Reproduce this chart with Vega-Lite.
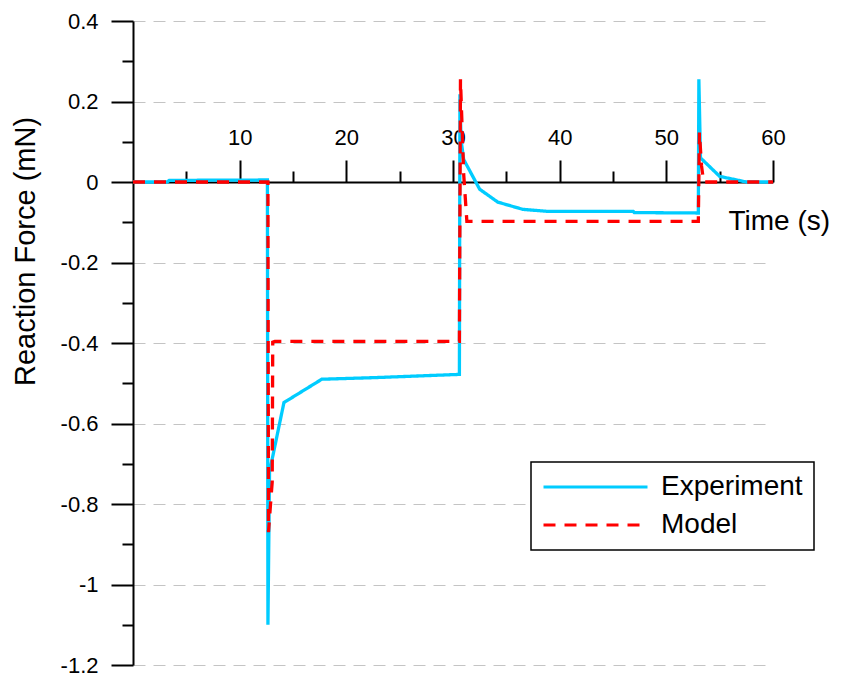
{
  "$schema": "https://vega.github.io/schema/vega-lite/v6.json",
  "width": 640,
  "height": 644,
  "autosize": "none",
  "padding": {"left": 133, "top": 21, "right": 68, "bottom": 15},
  "background": "white",
  "config": {
    "view": {"stroke": null},
    "font": "Liberation Sans",
    "legend": {
      "orient": "none",
      "legendX": 398,
      "legendY": 441,
      "title": null,
      "symbolType": "stroke",
      "symbolSize": 10816,
      "symbolStrokeWidth": 3,
      "labelFontSize": 28,
      "labelFont": "Liberation Sans",
      "labelColor": "black",
      "labelOffset": 12,
      "strokeColor": "black",
      "strokeWidth": 1.5,
      "fillColor": "white",
      "padding": 11,
      "rowPadding": 10,
      "clipHeight": 28
    }
  },
  "data": {
    "values": [
      {"t": 0, "f": 0, "s": "Experiment"},
      {"t": 3.2, "f": 0, "s": "Experiment"},
      {"t": 3.4, "f": 0.004, "s": "Experiment"},
      {"t": 12.6, "f": 0.005, "s": "Experiment"},
      {"t": 12.65, "f": -1.1, "s": "Experiment"},
      {"t": 12.8, "f": -0.72, "s": "Experiment"},
      {"t": 14.15, "f": -0.548, "s": "Experiment"},
      {"t": 17.7, "f": -0.49, "s": "Experiment"},
      {"t": 22.7, "f": -0.486, "s": "Experiment"},
      {"t": 30.6, "f": -0.478, "s": "Experiment"},
      {"t": 30.65, "f": 0.218, "s": "Experiment"},
      {"t": 30.75, "f": 0.105, "s": "Experiment"},
      {"t": 31.0, "f": 0.056, "s": "Experiment"},
      {"t": 32.5, "f": -0.018, "s": "Experiment"},
      {"t": 34.2, "f": -0.05, "s": "Experiment"},
      {"t": 36.55, "f": -0.068, "s": "Experiment"},
      {"t": 38.9, "f": -0.073, "s": "Experiment"},
      {"t": 46.9, "f": -0.073, "s": "Experiment"},
      {"t": 47.0, "f": -0.076, "s": "Experiment"},
      {"t": 53.0, "f": -0.077, "s": "Experiment"},
      {"t": 53.05, "f": 0.255, "s": "Experiment"},
      {"t": 53.2, "f": 0.06, "s": "Experiment"},
      {"t": 55.0, "f": 0.014, "s": "Experiment"},
      {"t": 57.5, "f": 0, "s": "Experiment"},
      {"t": 60, "f": 0, "s": "Experiment"},
      {"t": 0, "f": 0, "s": "Model"},
      {"t": 12.65, "f": 0, "s": "Model"},
      {"t": 12.7, "f": -0.87, "s": "Model"},
      {"t": 13.05, "f": -0.745, "s": "Model"},
      {"t": 13.1, "f": -0.398, "s": "Model"},
      {"t": 13.3, "f": -0.396, "s": "Model"},
      {"t": 30.6, "f": -0.396, "s": "Model"},
      {"t": 30.7, "f": 0.255, "s": "Model"},
      {"t": 31.0, "f": 0.02, "s": "Model"},
      {"t": 31.3, "f": -0.098, "s": "Model"},
      {"t": 53.0, "f": -0.098, "s": "Model"},
      {"t": 53.1, "f": 0.123, "s": "Model"},
      {"t": 53.3, "f": 0.04, "s": "Model"},
      {"t": 53.5, "f": 0, "s": "Model"},
      {"t": 60, "f": 0, "s": "Model"}
    ]
  },
  "mark": {"type": "line", "strokeWidth": 3.3},
  "encoding": {
    "x": {
      "field": "t",
      "type": "quantitative",
      "scale": {"domain": [0, 60], "nice": false, "zero": false},
      "axis": {
        "orient": "top",
        "offset": -161,
        "values": [5, 10, 15, 20, 25, 30, 35, 40, 45, 50, 55, 60],
        "labelExpr": "datum.value % 10 === 0 ? datum.label : ''",
        "tickSize": {"condition": {"test": "datum.value % 10 === 0", "value": 22}, "value": 11},
        "tickWidth": 2,
        "tickColor": "black",
        "domainColor": "black",
        "domainWidth": 2,
        "labelFontSize": 22,
        "labelColor": "black",
        "labelPadding": 11,
        "labelFlush": false,
        "grid": false,
        "title": "Time (s)",
        "titleFontSize": 28,
        "titleFontWeight": "normal",
        "titleColor": "black",
        "titleX": 595,
        "titleY": 39,
        "titleAlign": "left",
        "titleBaseline": "middle",
        "titleAngle": 0
      }
    },
    "y": {
      "field": "f",
      "type": "quantitative",
      "scale": {"domain": [-1.2, 0.4], "nice": false, "zero": false},
      "axis": {
        "orient": "left",
        "values": [-1.2, -1.1, -1.0, -0.9, -0.8, -0.7, -0.6, -0.5, -0.4, -0.3, -0.2, -0.1, 0, 0.1, 0.2, 0.3, 0.4],
        "labelExpr": "abs(round(datum.value * 10)) % 2 === 0 ? replace(format(datum.value, '.1~f'), '\u2212', '-') : ''",
        "tickSize": {"condition": {"test": "abs(round(datum.value * 10)) % 2 === 0", "value": 22}, "value": 11},
        "tickWidth": 2,
        "tickColor": "black",
        "domainColor": "black",
        "domainWidth": 2,
        "labelFontSize": 22,
        "labelColor": "black",
        "labelPadding": 13,
        "labelFlush": false,
        "grid": true,
        "gridDash": [12, 8],
        "gridColor": "#c4c4c4",
        "gridWidth": 1,
        "gridOpacity": {"condition": {"test": "abs(round(datum.value * 10)) % 2 === 0 && datum.value !== 0", "value": 1}, "value": 0},
        "title": "Reaction Force (mN)",
        "titleFontSize": 29,
        "titleFontWeight": "normal",
        "titleColor": "black",
        "titleX": -108,
        "titleY": 230,
        "titleAngle": -90,
        "titleAlign": "center",
        "titleBaseline": "middle"
      }
    },
    "color": {
      "field": "s",
      "type": "nominal",
      "scale": {"domain": ["Experiment", "Model"], "range": ["#00CCFF", "#FF0000"]}
    },
    "strokeDash": {
      "field": "s",
      "type": "nominal",
      "scale": {"domain": ["Experiment", "Model"], "range": [[1, 0], [12, 9]]}
    }
  }
}
